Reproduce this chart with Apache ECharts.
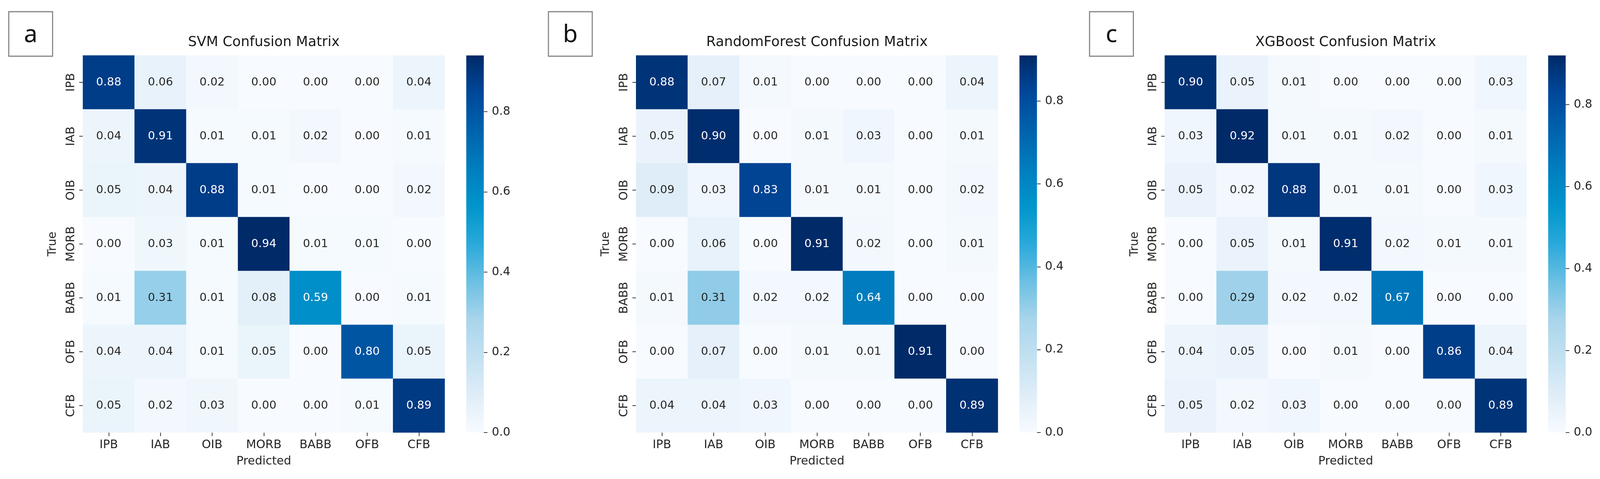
<!DOCTYPE html>
<html><head><meta charset="utf-8">
<script src="https://cdn.jsdelivr.net/npm/echarts@6/dist/echarts.min.js"></script>
<style>html,body{margin:0;padding:0;background:#fff;overflow:hidden}#c{width:100vw;height:100vh}</style>
</head><body><div id="c"></div>
<script>
// ---------- DATA ----------
const classes = ['IPB', 'IAB', 'OIB', 'MORB', 'BABB', 'OFB', 'CFB'];
const panelLetters = ['a', 'b', 'c'];
const modelTitles = ['SVM Confusion Matrix', 'RandomForest Confusion Matrix', 'XGBoost Confusion Matrix'];
const svmMatrix = [
  [0.88, 0.06, 0.02, 0.00, 0.00, 0.00, 0.04],
  [0.04, 0.91, 0.01, 0.01, 0.02, 0.00, 0.01],
  [0.05, 0.04, 0.88, 0.01, 0.00, 0.00, 0.02],
  [0.00, 0.03, 0.01, 0.94, 0.01, 0.01, 0.00],
  [0.01, 0.31, 0.01, 0.08, 0.59, 0.00, 0.01],
  [0.04, 0.04, 0.01, 0.05, 0.00, 0.80, 0.05],
  [0.05, 0.02, 0.03, 0.00, 0.00, 0.01, 0.89]
];
const rfMatrix = [
  [0.88, 0.07, 0.01, 0.00, 0.00, 0.00, 0.04],
  [0.05, 0.90, 0.00, 0.01, 0.03, 0.00, 0.01],
  [0.09, 0.03, 0.83, 0.01, 0.01, 0.00, 0.02],
  [0.00, 0.06, 0.00, 0.91, 0.02, 0.00, 0.01],
  [0.01, 0.31, 0.02, 0.02, 0.64, 0.00, 0.00],
  [0.00, 0.07, 0.00, 0.01, 0.01, 0.91, 0.00],
  [0.04, 0.04, 0.03, 0.00, 0.00, 0.00, 0.89]
];
const xgbMatrix = [
  [0.90, 0.05, 0.01, 0.00, 0.00, 0.00, 0.03],
  [0.03, 0.92, 0.01, 0.01, 0.02, 0.00, 0.01],
  [0.05, 0.02, 0.88, 0.01, 0.01, 0.00, 0.03],
  [0.00, 0.05, 0.01, 0.91, 0.02, 0.01, 0.01],
  [0.00, 0.29, 0.02, 0.02, 0.67, 0.00, 0.00],
  [0.04, 0.05, 0.00, 0.01, 0.00, 0.86, 0.04],
  [0.05, 0.02, 0.03, 0.00, 0.00, 0.00, 0.89]
];
const colorbarTicks = [0.0, 0.2, 0.4, 0.6, 0.8];
const xAxisName = 'Predicted';
const yAxisName = 'True';

// ---------- STYLE / LAYOUT ----------
const matrices = [svmMatrix, rfMatrix, xgbMatrix];
const blueScale = ['#f7fbff', '#dfedf8', '#c3e1f1', '#a8d5eb', '#6cc0e3', '#2aa9da',
                   '#0095cb', '#007ebf', '#0063ad', '#00489a', '#002a68'];
const FONT = 'DejaVu Sans';

const el = document.getElementById('c');
const chart = echarts.init(el, null, {renderer: 'canvas'});
const W = chart.getWidth(), H = chart.getHeight();
const sx = W / 4382, sy = H / 1227, sf = Math.min(sx, sy);
const X = v => v * sx, Y = v => v * sy, F = v => v * sf;

const heatLeft = [227, 1742, 3190];
const heatTop = 142, heatW = 991, heatH = 966;
const cbarGap = 59, cbarW = 48;
const boxLeft = [24, 1502, 2984];

const grid = [], xAxis = [], yAxis = [], series = [], visualMap = [], graphic = [];
const tickStyle = () => ({show: true, length: F(10), lineStyle: {color: '#333333', width: F(2)}});

matrices.forEach((m, i) => {
  const maxV = Math.max(...m.flat());
  grid.push({left: X(heatLeft[i]), top: Y(heatTop), width: X(heatW), height: Y(heatH)});
  xAxis.push({
    type: 'category', gridIndex: i, data: classes, position: 'bottom',
    axisLine: {show: false}, axisTick: Object.assign({alignWithLabel: true}, tickStyle()),
    axisLabel: {fontSize: F(32), color: '#262626', margin: F(18), fontFamily: FONT},
    splitLine: {show: false}, splitArea: {show: false},
    name: xAxisName, nameLocation: 'middle', nameGap: F(63),
    nameTextStyle: {fontSize: F(32), color: '#262626', fontFamily: FONT}
  });
  yAxis.push({
    type: 'category', gridIndex: i, data: classes, inverse: true,
    axisLine: {show: false}, axisTick: Object.assign({alignWithLabel: true}, tickStyle()),
    axisLabel: {fontSize: F(32), color: '#262626', margin: F(16), rotate: 90, fontFamily: FONT},
    splitLine: {show: false}, splitArea: {show: false},
    name: yAxisName, nameLocation: 'middle', nameGap: F(66),
    nameTextStyle: {fontSize: F(32), color: '#262626', fontFamily: FONT}
  });
  const data = [];
  m.forEach((row, r) => row.forEach((v, c) => {
    data.push({value: [c, r, v], label: {color: (v / maxV > 0.45) ? '#ffffff' : '#262626'}});
  }));
  series.push({
    type: 'heatmap', xAxisIndex: i, yAxisIndex: i, data: data,
    label: {show: true, fontSize: F(31), fontFamily: FONT, formatter: p => p.value[2].toFixed(2)},
    emphasis: {disabled: true}, itemStyle: {borderWidth: 0}
  });
  visualMap.push({
    type: 'continuous', show: false, seriesIndex: i, dimension: 2,
    min: 0, max: maxV, inRange: {color: blueScale}
  });
});

// colorbars
matrices.forEach((m, i) => {
  const maxV = Math.max(...m.flat());
  const gi = 3 + i;
  grid.push({left: X(heatLeft[i] + heatW + cbarGap), top: Y(heatTop), width: X(cbarW), height: Y(heatH)});
  xAxis.push({type: 'category', gridIndex: gi, data: [''], show: false});
  yAxis.push({
    type: 'value', gridIndex: gi, position: 'right', min: 0, max: maxV,
    axisLine: {show: false},
    axisTick: Object.assign({customValues: colorbarTicks}, tickStyle()),
    axisLabel: {customValues: colorbarTicks, formatter: v => v.toFixed(1), fontSize: F(32),
                color: '#262626', margin: F(22), fontFamily: FONT},
    splitLine: {show: false}
  });
  const stops = blueScale.map((c, k) => ({offset: k / (blueScale.length - 1), color: blueScale[blueScale.length - 1 - k]}));
  series.push({
    type: 'bar', xAxisIndex: gi, yAxisIndex: gi, data: [maxV], barWidth: '100%', silent: true,
    itemStyle: {color: new echarts.graphic.LinearGradient(0, 0, 0, 1, stops)}
  });
});

// titles and panel letters
matrices.forEach((m, i) => {
  graphic.push({
    type: 'text', x: X(heatLeft[i] + heatW / 2), y: Y(109),
    style: {text: modelTitles[i], fontSize: F(38), fontFamily: FONT, fill: '#1a1a1a', align: 'center', verticalAlign: 'middle'}
  });
  graphic.push({
    type: 'rect', shape: {x: X(boxLeft[i]), y: Y(30), width: X(120), height: Y(114)},
    style: {fill: '#ffffff', stroke: '#8a8282', lineWidth: F(3)}
  });
  graphic.push({
    type: 'text', x: X(boxLeft[i] + 60), y: Y(90),
    style: {text: panelLetters[i], fontSize: F(66), fontFamily: 'Noto Sans', fill: '#111111', align: 'center', verticalAlign: 'middle'}
  });
});

chart.setOption({
  backgroundColor: '#ffffff',
  animation: false,
  grid, xAxis, yAxis, series, visualMap, graphic
});
</script></body></html>
